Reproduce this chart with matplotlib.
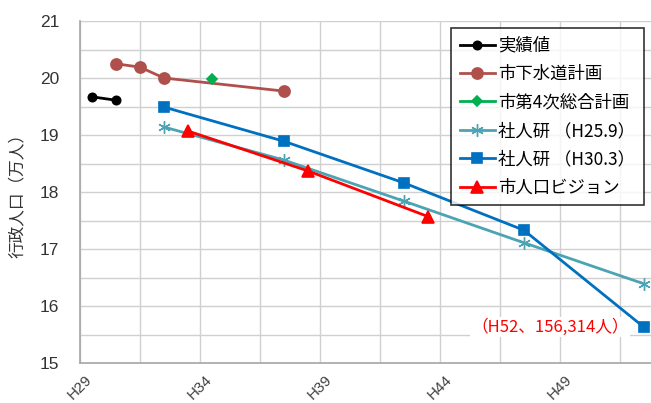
import matplotlib
matplotlib.use("Agg")
from matplotlib import pyplot as plt
import numpy as np

plt.rcParams['font.family'] = ['Liberation Sans', 'Noto Sans CJK JP', 'DejaVu Sans']

# years (Heisei), values in 万人
actual_x = [29, 30]
actual_y = [19.67, 19.61]

sewer_x = [30, 31, 32, 37]
sewer_y = [20.25, 20.19, 20.00, 19.77]

plan4_x = [34]
plan4_y = [19.98]

ipss25_x = [32, 37, 42, 47, 52]
ipss25_y = [19.14, 18.56, 17.84, 17.11, 16.39]

ipss30_x = [32, 37, 42, 47, 52]
ipss30_y = [19.49, 18.89, 18.16, 17.33, 15.63]

vision_x = [33, 38, 43]
vision_y = [19.07, 18.37, 17.57]

tick_years = [29, 34, 39, 44, 49]
tick_labels = ['H29', 'H34', 'H39', 'H44', 'H49']

series = [
    (actual_x, actual_y, '実績値', '#000000', 'o', 6),
    (sewer_x, sewer_y, '市下水道計画', '#B0504C', 'o', 8),
    (plan4_x, plan4_y, '市第4次総合計画', '#00B050', 'D', 5),
    (ipss25_x, ipss25_y, '社人研 （H25.9）', '#4BA3B4', (6, 2, 0), 9),
    (ipss30_x, ipss30_y, '社人研 （H30.3）', '#0070C0', 's', 7),
    (vision_x, vision_y, '市人口ビジョン', '#FF0000', '^', 9),
]

fig = plt.figure(figsize=(6.51, 4.03), dpi=100)
ax = fig.add_axes([80 / 651, 40 / 403, 571 / 651, 342 / 403])

for xs, ys, name, col, mk, ms in series:
    xp = np.array(xs) + 0.5
    ax.plot(xp, ys, color=col, lw=2, marker=mk, markersize=ms,
            markeredgecolor=col, markerfacecolor=col, label=name,
            markeredgewidth=1.2 if mk != (6, 2, 0) else 1.0)

ax.set_xlim(29, 52.8)
ax.set_ylim(15, 21)
ax.set_xticks(tick_years)
ax.set_xticklabels(tick_labels, rotation=45, ha='center', va='top',
                   fontsize=11, color='#404040')
ax.set_xticks(np.arange(29, 53, 2.5), minor=True)
ax.set_yticks(np.arange(15, 22, 1))
ax.set_yticks(np.arange(15, 21.01, 0.5), minor=True)
ax.tick_params(axis='y', labelsize=12.5, labelcolor='#333333', length=0, pad=15)
ax.tick_params(axis='x', length=0, pad=7)
ax.tick_params(which='minor', length=0)
ax.grid(True, which='both', color='#D0D0D0', lw=1)
ax.set_axisbelow(True)
for s in ['top', 'right']:
    ax.spines[s].set_visible(False)
for s in ['left', 'bottom']:
    ax.spines[s].set_color('#A6A6A6')
    ax.spines[s].set_linewidth(1.2)

ax.set_ylabel('行政人口（万人）', family=['Noto Sans CJK JP'], fontsize=12,
              color='#333333', labelpad=10)

leg = ax.legend(loc='upper right', bbox_to_anchor=(1.0 - 7 / 571, 1.0 - 7 / 342),
                prop={'family': ['Noto Sans CJK JP', 'DejaVu Sans'], 'size': 12.5},
                frameon=True, fancybox=False, edgecolor='#000000',
                handlelength=2.0, labelspacing=0.6, borderpad=0.5,
                handletextpad=0.2, borderaxespad=0)
leg.get_frame().set_linewidth(1.2)

ax.text(48.6, 15.63, '（H52、156,314人）', color='#FF0000', fontsize=12,
        family=['Noto Sans CJK JP', 'DejaVu Sans'], ha='center', va='center',
        bbox=dict(facecolor='white', edgecolor='none', pad=1))

fig.savefig('out.png', dpi=100)
